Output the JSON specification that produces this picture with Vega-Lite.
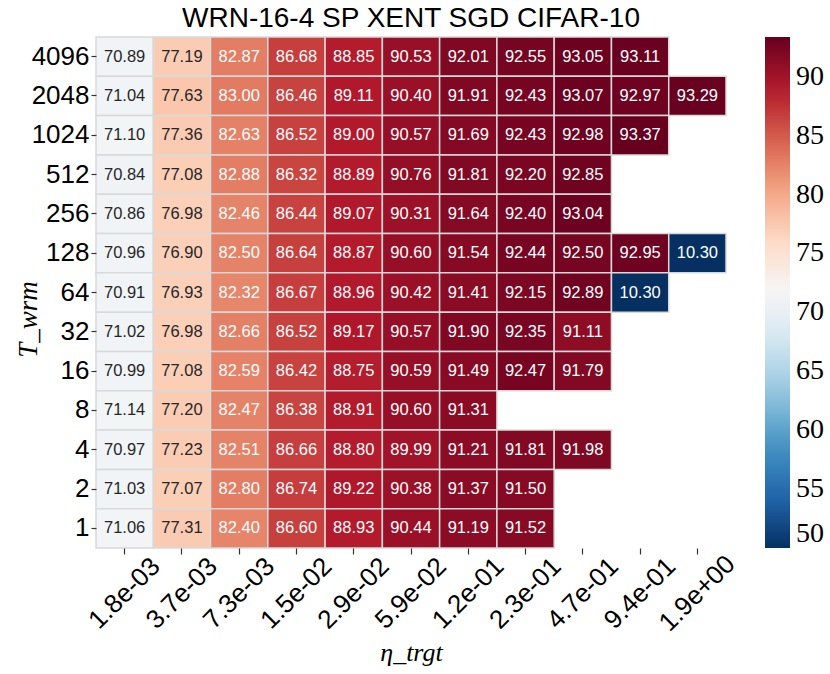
{
  "$schema": "https://vega.github.io/schema/vega-lite/v6.json",
  "autosize": {"type": "none"},
  "padding": {"left": 96, "top": 37, "right": 104, "bottom": 126},
  "width": 630,
  "height": 511,
  "title": {"text": "WRN-16-4 SP XENT SGD CIFAR-10", "font": "Liberation Sans", "fontSize": 28, "fontWeight": "normal", "color": "black", "anchor": "middle", "offset": 3},
  "config": {"view": {"stroke": null}},
  "data": {"values": [
    {"eta": "1.8e-03", "T": "4096", "acc": 70.89}, {"eta": "3.7e-03", "T": "4096", "acc": 77.19}, {"eta": "7.3e-03", "T": "4096", "acc": 82.87}, {"eta": "1.5e-02", "T": "4096", "acc": 86.68}, {"eta": "2.9e-02", "T": "4096", "acc": 88.85}, {"eta": "5.9e-02", "T": "4096", "acc": 90.53}, {"eta": "1.2e-01", "T": "4096", "acc": 92.01}, {"eta": "2.3e-01", "T": "4096", "acc": 92.55}, {"eta": "4.7e-01", "T": "4096", "acc": 93.05}, {"eta": "9.4e-01", "T": "4096", "acc": 93.11}, {"eta": "1.9e+00", "T": "4096", "acc": null},
    {"eta": "1.8e-03", "T": "2048", "acc": 71.04}, {"eta": "3.7e-03", "T": "2048", "acc": 77.63}, {"eta": "7.3e-03", "T": "2048", "acc": 83.00}, {"eta": "1.5e-02", "T": "2048", "acc": 86.46}, {"eta": "2.9e-02", "T": "2048", "acc": 89.11}, {"eta": "5.9e-02", "T": "2048", "acc": 90.40}, {"eta": "1.2e-01", "T": "2048", "acc": 91.91}, {"eta": "2.3e-01", "T": "2048", "acc": 92.43}, {"eta": "4.7e-01", "T": "2048", "acc": 93.07}, {"eta": "9.4e-01", "T": "2048", "acc": 92.97}, {"eta": "1.9e+00", "T": "2048", "acc": 93.29},
    {"eta": "1.8e-03", "T": "1024", "acc": 71.10}, {"eta": "3.7e-03", "T": "1024", "acc": 77.36}, {"eta": "7.3e-03", "T": "1024", "acc": 82.63}, {"eta": "1.5e-02", "T": "1024", "acc": 86.52}, {"eta": "2.9e-02", "T": "1024", "acc": 89.00}, {"eta": "5.9e-02", "T": "1024", "acc": 90.57}, {"eta": "1.2e-01", "T": "1024", "acc": 91.69}, {"eta": "2.3e-01", "T": "1024", "acc": 92.43}, {"eta": "4.7e-01", "T": "1024", "acc": 92.98}, {"eta": "9.4e-01", "T": "1024", "acc": 93.37}, {"eta": "1.9e+00", "T": "1024", "acc": null},
    {"eta": "1.8e-03", "T": "512", "acc": 70.84}, {"eta": "3.7e-03", "T": "512", "acc": 77.08}, {"eta": "7.3e-03", "T": "512", "acc": 82.88}, {"eta": "1.5e-02", "T": "512", "acc": 86.32}, {"eta": "2.9e-02", "T": "512", "acc": 88.89}, {"eta": "5.9e-02", "T": "512", "acc": 90.76}, {"eta": "1.2e-01", "T": "512", "acc": 91.81}, {"eta": "2.3e-01", "T": "512", "acc": 92.20}, {"eta": "4.7e-01", "T": "512", "acc": 92.85}, {"eta": "9.4e-01", "T": "512", "acc": null}, {"eta": "1.9e+00", "T": "512", "acc": null},
    {"eta": "1.8e-03", "T": "256", "acc": 70.86}, {"eta": "3.7e-03", "T": "256", "acc": 76.98}, {"eta": "7.3e-03", "T": "256", "acc": 82.46}, {"eta": "1.5e-02", "T": "256", "acc": 86.44}, {"eta": "2.9e-02", "T": "256", "acc": 89.07}, {"eta": "5.9e-02", "T": "256", "acc": 90.31}, {"eta": "1.2e-01", "T": "256", "acc": 91.64}, {"eta": "2.3e-01", "T": "256", "acc": 92.40}, {"eta": "4.7e-01", "T": "256", "acc": 93.04}, {"eta": "9.4e-01", "T": "256", "acc": null}, {"eta": "1.9e+00", "T": "256", "acc": null},
    {"eta": "1.8e-03", "T": "128", "acc": 70.96}, {"eta": "3.7e-03", "T": "128", "acc": 76.90}, {"eta": "7.3e-03", "T": "128", "acc": 82.50}, {"eta": "1.5e-02", "T": "128", "acc": 86.64}, {"eta": "2.9e-02", "T": "128", "acc": 88.87}, {"eta": "5.9e-02", "T": "128", "acc": 90.60}, {"eta": "1.2e-01", "T": "128", "acc": 91.54}, {"eta": "2.3e-01", "T": "128", "acc": 92.44}, {"eta": "4.7e-01", "T": "128", "acc": 92.50}, {"eta": "9.4e-01", "T": "128", "acc": 92.95}, {"eta": "1.9e+00", "T": "128", "acc": 10.30},
    {"eta": "1.8e-03", "T": "64", "acc": 70.91}, {"eta": "3.7e-03", "T": "64", "acc": 76.93}, {"eta": "7.3e-03", "T": "64", "acc": 82.32}, {"eta": "1.5e-02", "T": "64", "acc": 86.67}, {"eta": "2.9e-02", "T": "64", "acc": 88.96}, {"eta": "5.9e-02", "T": "64", "acc": 90.42}, {"eta": "1.2e-01", "T": "64", "acc": 91.41}, {"eta": "2.3e-01", "T": "64", "acc": 92.15}, {"eta": "4.7e-01", "T": "64", "acc": 92.89}, {"eta": "9.4e-01", "T": "64", "acc": 10.30}, {"eta": "1.9e+00", "T": "64", "acc": null},
    {"eta": "1.8e-03", "T": "32", "acc": 71.02}, {"eta": "3.7e-03", "T": "32", "acc": 76.98}, {"eta": "7.3e-03", "T": "32", "acc": 82.66}, {"eta": "1.5e-02", "T": "32", "acc": 86.52}, {"eta": "2.9e-02", "T": "32", "acc": 89.17}, {"eta": "5.9e-02", "T": "32", "acc": 90.57}, {"eta": "1.2e-01", "T": "32", "acc": 91.90}, {"eta": "2.3e-01", "T": "32", "acc": 92.35}, {"eta": "4.7e-01", "T": "32", "acc": 91.11}, {"eta": "9.4e-01", "T": "32", "acc": null}, {"eta": "1.9e+00", "T": "32", "acc": null},
    {"eta": "1.8e-03", "T": "16", "acc": 70.99}, {"eta": "3.7e-03", "T": "16", "acc": 77.08}, {"eta": "7.3e-03", "T": "16", "acc": 82.59}, {"eta": "1.5e-02", "T": "16", "acc": 86.42}, {"eta": "2.9e-02", "T": "16", "acc": 88.75}, {"eta": "5.9e-02", "T": "16", "acc": 90.59}, {"eta": "1.2e-01", "T": "16", "acc": 91.49}, {"eta": "2.3e-01", "T": "16", "acc": 92.47}, {"eta": "4.7e-01", "T": "16", "acc": 91.79}, {"eta": "9.4e-01", "T": "16", "acc": null}, {"eta": "1.9e+00", "T": "16", "acc": null},
    {"eta": "1.8e-03", "T": "8", "acc": 71.14}, {"eta": "3.7e-03", "T": "8", "acc": 77.20}, {"eta": "7.3e-03", "T": "8", "acc": 82.47}, {"eta": "1.5e-02", "T": "8", "acc": 86.38}, {"eta": "2.9e-02", "T": "8", "acc": 88.91}, {"eta": "5.9e-02", "T": "8", "acc": 90.60}, {"eta": "1.2e-01", "T": "8", "acc": 91.31}, {"eta": "2.3e-01", "T": "8", "acc": null}, {"eta": "4.7e-01", "T": "8", "acc": null}, {"eta": "9.4e-01", "T": "8", "acc": null}, {"eta": "1.9e+00", "T": "8", "acc": null},
    {"eta": "1.8e-03", "T": "4", "acc": 70.97}, {"eta": "3.7e-03", "T": "4", "acc": 77.23}, {"eta": "7.3e-03", "T": "4", "acc": 82.51}, {"eta": "1.5e-02", "T": "4", "acc": 86.66}, {"eta": "2.9e-02", "T": "4", "acc": 88.80}, {"eta": "5.9e-02", "T": "4", "acc": 89.99}, {"eta": "1.2e-01", "T": "4", "acc": 91.21}, {"eta": "2.3e-01", "T": "4", "acc": 91.81}, {"eta": "4.7e-01", "T": "4", "acc": 91.98}, {"eta": "9.4e-01", "T": "4", "acc": null}, {"eta": "1.9e+00", "T": "4", "acc": null},
    {"eta": "1.8e-03", "T": "2", "acc": 71.03}, {"eta": "3.7e-03", "T": "2", "acc": 77.07}, {"eta": "7.3e-03", "T": "2", "acc": 82.80}, {"eta": "1.5e-02", "T": "2", "acc": 86.74}, {"eta": "2.9e-02", "T": "2", "acc": 89.22}, {"eta": "5.9e-02", "T": "2", "acc": 90.38}, {"eta": "1.2e-01", "T": "2", "acc": 91.37}, {"eta": "2.3e-01", "T": "2", "acc": 91.50}, {"eta": "4.7e-01", "T": "2", "acc": null}, {"eta": "9.4e-01", "T": "2", "acc": null}, {"eta": "1.9e+00", "T": "2", "acc": null},
    {"eta": "1.8e-03", "T": "1", "acc": 71.06}, {"eta": "3.7e-03", "T": "1", "acc": 77.31}, {"eta": "7.3e-03", "T": "1", "acc": 82.40}, {"eta": "1.5e-02", "T": "1", "acc": 86.60}, {"eta": "2.9e-02", "T": "1", "acc": 88.93}, {"eta": "5.9e-02", "T": "1", "acc": 90.44}, {"eta": "1.2e-01", "T": "1", "acc": 91.19}, {"eta": "2.3e-01", "T": "1", "acc": 91.52}, {"eta": "4.7e-01", "T": "1", "acc": null}, {"eta": "9.4e-01", "T": "1", "acc": null}, {"eta": "1.9e+00", "T": "1", "acc": null}
  ]},
  "encoding": {
    "x": {"field": "eta", "type": "ordinal",
      "sort": ["1.8e-03","3.7e-03","7.3e-03","1.5e-02","2.9e-02","5.9e-02","1.2e-01","2.3e-01","4.7e-01","9.4e-01","1.9e+00"],
      "scale": {"paddingInner": 0, "paddingOuter": 0},
      "axis": {"title": "η_trgt", "titleFont": "Liberation Serif", "titleFontStyle": "italic", "titleFontWeight": "normal", "titleFontSize": 26, "titleColor": "black", "titleY": 104, "titleBaseline": "middle",
        "labelAngle": -45, "labelAlign": "center", "labelBaseline": "middle", "labelFont": "Liberation Sans", "labelFontSize": 26, "labelColor": "black", "labelPadding": 39,
        "domain": false, "tickSize": 6, "tickColor": "#333333", "tickWidth": 1.2, "labelOverlap": false}},
    "y": {"field": "T", "type": "ordinal",
      "sort": ["4096","2048","1024","512","256","128","64","32","16","8","4","2","1"],
      "scale": {"paddingInner": 0, "paddingOuter": 0},
      "axis": {"title": "T_wrm", "titleFont": "Liberation Serif", "titleFontStyle": "italic", "titleFontWeight": "normal", "titleFontSize": 27, "titleColor": "black", "titleX": -68, "titleY": 282, "titleAngle": -90, "titleAlign": "center", "titleBaseline": "middle",
        "labelFont": "Liberation Sans", "labelFontSize": 26, "labelColor": "black", "labelPadding": 2,
        "domain": false, "tickSize": 5, "tickColor": "#333333", "tickWidth": 1.2, "labelOverlap": false}}
  },
  "layer": [
    {
      "mark": {"type": "rect", "stroke": "#d9d9d9", "strokeWidth": 1.5},
      "encoding": {
        "fill": {
          "condition": {"test": "datum.acc === null", "value": "white"},
          "field": "acc", "type": "quantitative",
          "scale": {
            "domain": [50, 54.337, 58.674, 63.011, 67.348, 71.685, 76.022, 80.359, 84.696, 89.033, 93.37],
            "range": ["#053061", "#2166ac", "#4393c3", "#92c5de", "#d1e5f0", "#f7f7f7", "#fddbc7", "#f4a582", "#d6604d", "#b2182b", "#67001f"],
            "interpolate": "rgb", "clamp": true},
          "legend": {"title": null, "orient": "none", "legendX": 669, "legendY": 0, "direction": "vertical",
            "gradientLength": 511, "gradientThickness": 25, "gradientStrokeWidth": 0,
            "values": [50, 55, 60, 65, 70, 75, 80, 85, 90],
            "labelFont": "Liberation Serif", "labelFontSize": 28, "labelColor": "black", "labelOffset": 6, "padding": 0, "labelOverlap": false}
        }
      }
    },
    {
      "transform": [{"filter": "datum.acc !== null"}],
      "mark": {"type": "text", "font": "Liberation Sans", "fontSize": 16.5},
      "encoding": {
        "text": {"field": "acc", "type": "quantitative", "format": ".2f"},
        "color": {
          "condition": {"test": "datum.acc > 60 && datum.acc < 80", "value": "#262626"},
          "value": "white"
        }
      }
    }
  ]
}
